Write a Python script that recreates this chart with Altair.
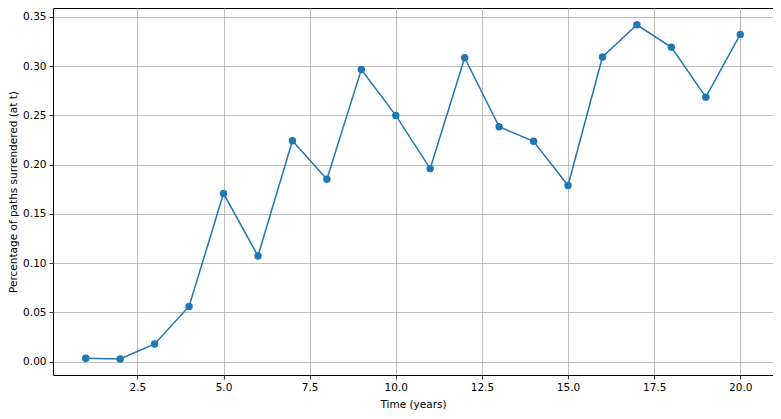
import altair as alt
import pandas as pd

years = list(range(1, 21))
surrendered = [0.0034, 0.0027, 0.0179, 0.0560, 0.1706, 0.1072, 0.2242, 0.1851, 0.2964, 0.2499,
               0.1959, 0.3085, 0.2384, 0.2236, 0.1787, 0.3092, 0.3419, 0.3190, 0.2684, 0.3321]

df = pd.DataFrame({"t": years, "p": surrendered})

x = alt.X("t:Q", title="Time (years)",
          scale=alt.Scale(domain=[0.05, 20.95], nice=False, zero=False),
          axis=alt.Axis(values=[2.5, 5.0, 7.5, 10.0, 12.5, 15.0, 17.5, 20.0], format=".1f"))
y = alt.Y("p:Q", title="Percentage of paths surrendered (at t)",
          scale=alt.Scale(domain=[-0.0136, 0.3589], nice=False, zero=False),
          axis=alt.Axis(values=[0, 0.05, 0.1, 0.15, 0.2, 0.25, 0.3, 0.35], format=".2f"))

base = alt.Chart(df).encode(x=x, y=y)
line = base.mark_line(color="#1f77b4", strokeWidth=1.5)
pts = base.mark_circle(color="#1f77b4", size=55, opacity=1)

chart = (line + pts).properties(
    width=720, height=367,
    autosize=alt.AutoSizeParams(type="none"),
    padding={"left": 45, "top": 0, "right": 0, "bottom": 36},
).configure_view(stroke="black", strokeWidth=1).configure_axis(
    grid=True, gridColor="#b0b0b0", gridWidth=0.8,
    domain=False, tickColor="black", tickSize=4, tickWidth=0.8,
    labelFont="DejaVu Sans", labelFontSize=10.5, labelColor="black", labelPadding=3,
    titleFont="DejaVu Sans", titleFontSize=10.5, titleFontWeight="normal", titleColor="black",
).configure_axisY(titlePadding=4).configure_axisX(titlePadding=7)

chart.save("out.html", embed_options={"renderer": "svg", "actions": False})
